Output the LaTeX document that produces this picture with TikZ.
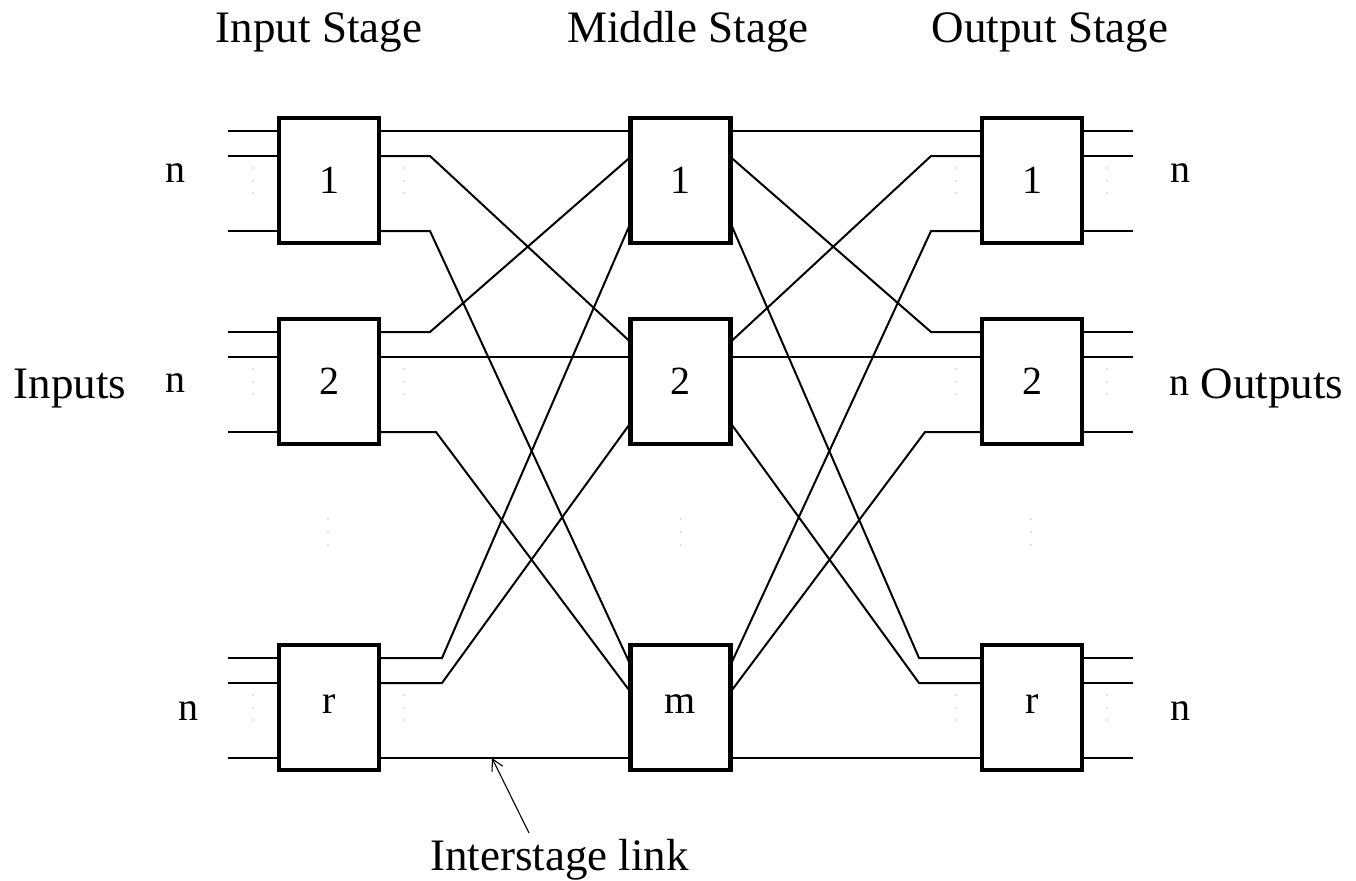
\documentclass[tikz,border=0pt]{standalone}
\usepackage{fontspec}
\setmainfont{Liberation Serif}
\usetikzlibrary{arrows.meta}
\begin{document}
\begin{tikzpicture}[x=1pt,y=-1pt,
  stage/.style={draw, line width=4.5pt, minimum width=100pt, minimum height=125pt,
    inner sep=0pt, outer sep=0pt, font=\fontsize{40}{40}\selectfont},
  wire/.style={line width=2pt},
  lbl/.style={font=\fontsize{45}{45}\selectfont, inner sep=0pt},
  nlbl/.style={font=\fontsize{40}{40}\selectfont, inner sep=0pt, anchor=base},
  dotc/.style={fill=black!22},
  pointer/.style={line width=1.1pt, -{Straight Barb[length=11pt, width=12pt, line width=1.1pt]}}
]
\useasboundingbox (0,0) rectangle (1356,880);

% stage titles
\node[lbl, anchor=base] (tin)  at (319,43) {Input Stage};
\node[lbl, anchor=base] (tmid) at (688,43) {Middle Stage};
\node[lbl, anchor=base] (tout) at (1050,43) {Output Stage};

% switch modules
\node[stage] (I1) at (329,180.5) {1};
\node[stage] (I2) at (329,381.5) {2};
\node[stage] (I3) at (329,707.5) {\raisebox{6pt}{r}};
\node[stage] (M1) at (680.5,180.5) {1};
\node[stage] (M2) at (680.5,381.5) {2};
\node[stage] (M3) at (680.5,707.5) {\raisebox{6pt}{m}};
\node[stage] (O1) at (1032,180.5) {1};
\node[stage] (O2) at (1032,381.5) {2};
\node[stage] (O3) at (1032,707.5) {\raisebox{6pt}{r}};

% external inputs and outputs
\foreach \b in {I1,I2,I3} \foreach \k in {13,38,113}
  \draw[wire] ([yshift=-\k pt]\b.north west) -- ++(-51,0);
\foreach \b in {O1,O2,O3} \foreach \k in {13,38,113}
  \draw[wire] ([yshift=-\k pt]\b.north east) -- ++(51,0);

% faint ellipsis beside each module
\foreach \b in {I1,I2,I3,O1,O2,O3} \foreach \k in {50,63,75} {
  \fill[dotc] ([xshift=-26pt,yshift=-\k pt]\b.north west) circle (0.9pt);
  \fill[dotc] ([xshift=25pt,yshift=-\k pt]\b.north east) circle (0.9pt);
}
% faint ellipsis between rows 2 and r
\foreach \x in {328,680.5,1031} \foreach \y in {519,532,545}
  \fill[dotc] (\x,\y) circle (0.9pt);

% input stage -> middle stage
\draw[wire] ([yshift=-13pt]I1.north east) -- ([yshift=-13pt]M1.north west);
\draw[wire] ([yshift=-38pt]I1.north east) -- ++(51,0) -- ([yshift=-23pt]M2.north west);
\draw[wire] ([yshift=-113pt]I1.north east) -- ++(51,0) -- ([yshift=-20pt]M3.north west);
\draw[wire] ([yshift=-13pt]I2.north east) -- ++(51,0) -- ([yshift=-39pt]M1.north west);
\draw[wire] ([yshift=-38pt]I2.north east) -- ([yshift=-38pt]M2.north west);
\draw[wire] ([yshift=-113pt]I2.north east) -- ++(57,0) -- ([yshift=-47pt]M3.north west);
\draw[wire] ([yshift=-13pt]I3.north east) -- ++(63,0) -- ([yshift=-105pt]M1.north west);
\draw[wire] ([yshift=-38pt]I3.north east) -- ++(63,0) -- ([yshift=-104pt]M2.north west);
\draw[wire] ([yshift=-113pt]I3.north east) -- ([yshift=-113pt]M3.north west);

% middle stage -> output stage
\draw[wire] ([yshift=-13pt]M1.north east) -- ([yshift=-13pt]O1.north west);
\draw[wire] ([yshift=-23pt]M2.north east) -- ([xshift=-51pt,yshift=-38pt]O1.north west) -- ([yshift=-38pt]O1.north west);
\draw[wire] ([yshift=-20pt]M3.north east) -- ([xshift=-51pt,yshift=-113pt]O1.north west) -- ([yshift=-113pt]O1.north west);
\draw[wire] ([yshift=-39pt]M1.north east) -- ([xshift=-51pt,yshift=-13pt]O2.north west) -- ([yshift=-13pt]O2.north west);
\draw[wire] ([yshift=-38pt]M2.north east) -- ([yshift=-38pt]O2.north west);
\draw[wire] ([yshift=-47pt]M3.north east) -- ([xshift=-57pt,yshift=-113pt]O2.north west) -- ([yshift=-113pt]O2.north west);
\draw[wire] ([yshift=-105pt]M1.north east) -- ([xshift=-63pt,yshift=-13pt]O3.north west) -- ([yshift=-13pt]O3.north west);
\draw[wire] ([yshift=-104pt]M2.north east) -- ([xshift=-63pt,yshift=-38pt]O3.north west) -- ([yshift=-38pt]O3.north west);
\draw[wire] ([yshift=-113pt]M3.north east) -- ([yshift=-113pt]O3.north west);

% port counts
\node[nlbl] (n1) at (175,182) {n};
\node[nlbl] (n2) at (175,392) {n};
\node[nlbl] (n3) at (188,720) {n};
\node[nlbl] (n4) at (1180,182) {n};
\node[nlbl] (n5) at (1179,395) {n};
\node[nlbl] (n6) at (1180,720) {n};

% side labels
\node[lbl, anchor=base] (inp) at (70,398) {Inputs};
\node[lbl, anchor=base] (outp) at (1272,398) {Outputs};

% interstage link annotation
\node[lbl, anchor=base west] (lnk) at (430,870) {Interstage link};
\coordinate (linktail) at (529,833);
\coordinate (linkpt) at (492,758);
\draw[pointer] (linktail) -- (linkpt);
\end{tikzpicture}
\end{document}
